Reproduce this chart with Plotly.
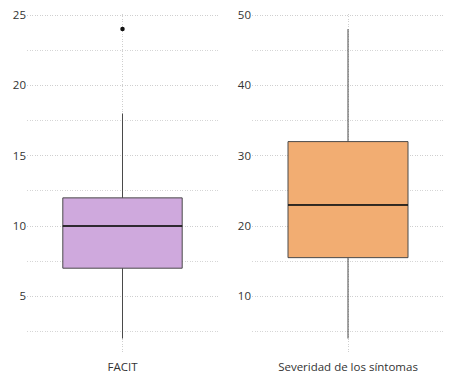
import plotly.graph_objects as go

W, H = 461, 378

categories = ["FACIT", "Severidad de los síntomas"]
lower_whisker = [2, 4]
q1_vals = [7, 15.5]
medians = [10, 23]
q3_vals = [12, 32]
upper_whisker = [18, 48]
outliers = [[24], []]
fill_colors = ["#CFA9DD", "#F2AD72"]
y_ticks = [[5, 10, 15, 20, 25], [10, 20, 30, 40, 50]]
y_minor = [[2.5, 7.5, 12.5, 17.5, 22.5], [5, 15, 25, 35, 45]]

box_width = 0.75
x_domains = [[27 / W, 218 / W], [252 / W, 444 / W]]
y_domain = [(H - 354) / H, (H - 13.6) / H]

fig = go.Figure()
for i, cat in enumerate(categories):
    xa = "x" if i == 0 else f"x{i+1}"
    ya = "y" if i == 0 else f"y{i+1}"
    fig.add_trace(go.Box(
        x=[0], q1=[q1_vals[i]], median=[medians[i]], q3=[q3_vals[i]],
        lowerfence=[lower_whisker[i]], upperfence=[upper_whisker[i]],
        width=box_width, whiskerwidth=0, fillcolor=fill_colors[i],
        line=dict(color="#4a4a4a", width=1), boxpoints=False,
        xaxis=xa, yaxis=ya, showlegend=False, hoverinfo="skip"))
    # thicker black median
    fig.add_trace(go.Scatter(
        x=[-box_width / 2, box_width / 2], y=[medians[i], medians[i]],
        mode="lines", line=dict(color="#111111", width=1.5),
        xaxis=xa, yaxis=ya, showlegend=False, hoverinfo="skip"))
    if outliers[i]:
        fig.add_trace(go.Scatter(
            x=[0] * len(outliers[i]), y=outliers[i], mode="markers",
            marker=dict(color="#111111", size=4.5),
            xaxis=xa, yaxis=ya, showlegend=False, hoverinfo="skip"))
    lo = min(lower_whisker[i], *(outliers[i] or [lower_whisker[i]]))
    hi = max(upper_whisker[i], *(outliers[i] or [upper_whisker[i]]))
    pad = 0.05 * (hi - lo)
    suffix = "" if i == 0 else str(i + 1)
    grid = dict(showgrid=True, gridcolor="#cfcfcf", griddash="1px,1.5px", gridwidth=1)
    fig.update_layout(**{
        "xaxis" + suffix: dict(
            domain=x_domains[i], range=[-0.6, 0.6], tickvals=[0], ticktext=[cat],
            zeroline=False, showline=False, ticks="", anchor="y" + suffix,
            automargin=False, ticklabelstandoff=4,
            tickfont=dict(size=11.5, color="#333333", family="Open Sans"),
            fixedrange=True, **grid),
        "yaxis" + suffix: dict(
            domain=y_domain, range=[lo - pad, hi + pad], tickvals=y_ticks[i],
            zeroline=False, showline=False, ticks="", anchor="x" + suffix,
            automargin=False,
            tickfont=dict(size=11.5, color="#333333", family="Open Sans"),
            minor=dict(tickvals=y_minor[i], showgrid=True, gridcolor="#d6d6d6",
                       griddash="1px,1.5px", gridwidth=1),
            fixedrange=True, **grid),
    })

fig.update_layout(
    width=W, height=H, margin=dict(l=0, r=0, t=0, b=0),
    plot_bgcolor="white", paper_bgcolor="white",
    font=dict(family="Open Sans", size=11, color="#333333"),
)
fig.write_html("out.html", config={"displayModeBar": False},
               post_script="document.body.style.margin='0px';document.body.style.overflow='hidden';")
